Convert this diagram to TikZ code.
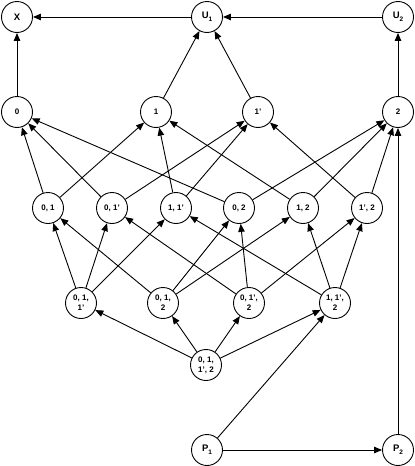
\documentclass[tikz,border=0pt]{standalone}
\usepackage{fontspec}
\setmainfont{Liberation Sans}
\usetikzlibrary{arrows.meta}
\newcommand\sbs[1]{\raisebox{-2.6pt}{\fontsize{6.5}{6.5}\selectfont #1}}
\begin{document}
\begin{tikzpicture}[x=1pt,y=-1pt,
  vtx/.style={circle,draw,line width=0.9pt,minimum size=31pt,inner sep=0pt,align=center,
    font=\bfseries\fontsize{8}{10}\selectfont},
  big/.style={font=\bfseries\fontsize{9.5}{11}\selectfont},
  edge/.style={line width=0.9pt,-{Triangle[length=8pt,width=6.5pt]}}]
\useasboundingbox (0,0) rectangle (415,466);
% top row
\node[vtx,big] (X) at (17,17) {X};
\node[vtx,big] (U1) at (207,17) {U\sbs{1}};
\node[vtx,big] (U2) at (398,17) {U\sbs{2}};
% singles
\node[vtx] (s0) at (17,112) {0};
\node[vtx] (s1) at (156,112) {1};
\node[vtx] (s1p) at (258,112) {1'};
\node[vtx] (s2) at (398,112) {2};
% pairs
\node[vtx] (p01) at (48,208) {0, 1};
\node[vtx] (p01p) at (112,208) {0, 1'};
\node[vtx] (p11p) at (176,208) {1, 1'};
\node[vtx] (p02) at (239,208) {0, 2};
\node[vtx] (p12) at (303,208) {1, 2};
\node[vtx] (p1p2) at (367,208) {1', 2};
% triples
\node[vtx] (t011p) at (81,303) {0, 1,\\1'};
\node[vtx] (t012) at (163,303) {0, 1,\\2};
\node[vtx] (t01p2) at (249,303) {0, 1',\\2};
\node[vtx] (t11p2) at (335,303) {1, 1',\\2};
% quad
\node[vtx] (q) at (206,365) {0, 1,\\1', 2};
% P
\node[vtx,big] (P1) at (207,450) {P\sbs{1}};
\node[vtx,big] (P2) at (398,450) {P\sbs{2}};
% edges
\draw[edge] (U1) -- (X);
\draw[edge] (U2) -- (U1);
\draw[edge] (s0) -- (X);
\draw[edge] (s1) -- (U1);
\draw[edge] (s1p) -- (U1);
\draw[edge] (s2) -- (U2);
\draw[edge] (P1) -- (P2);
\draw[edge] (P2) -- (s2);
\draw[edge] (P1) -- (t11p2);
% pairs -> singles
\draw[edge] (p01) -- (s0);
\draw[edge] (p01) -- (s1);
\draw[edge] (p01p) -- (s0);
\draw[edge] (p01p) -- (s1p);
\draw[edge] (p11p) -- (s1);
\draw[edge] (p11p) -- (s1p);
\draw[edge] (p02) -- (s0);
\draw[edge] (p02) -- (s2);
\draw[edge] (p12) -- (s1);
\draw[edge] (p12) -- (s2);
\draw[edge] (p1p2) -- (s1p);
\draw[edge] (p1p2) -- (s2);
% triples -> pairs
\draw[edge] (t011p) -- (p01);
\draw[edge] (t011p) -- (p01p);
\draw[edge] (t011p) -- (p11p);
\draw[edge] (t012) -- (p01);
\draw[edge] (t012) -- (p02);
\draw[edge] (t012) -- (p12);
\draw[edge] (t01p2) -- (p01p);
\draw[edge] (t01p2) -- (p02);
\draw[edge] (t01p2) -- (p1p2);
\draw[edge] (t11p2) -- (p11p);
\draw[edge] (t11p2) -- (p12);
\draw[edge] (t11p2) -- (p1p2);
% quad -> triples
\draw[edge] (q) -- (t011p);
\draw[edge] (q) -- (t012);
\draw[edge] (q) -- (t01p2);
\draw[edge] (q) -- (t11p2);
\end{tikzpicture}
\end{document}
